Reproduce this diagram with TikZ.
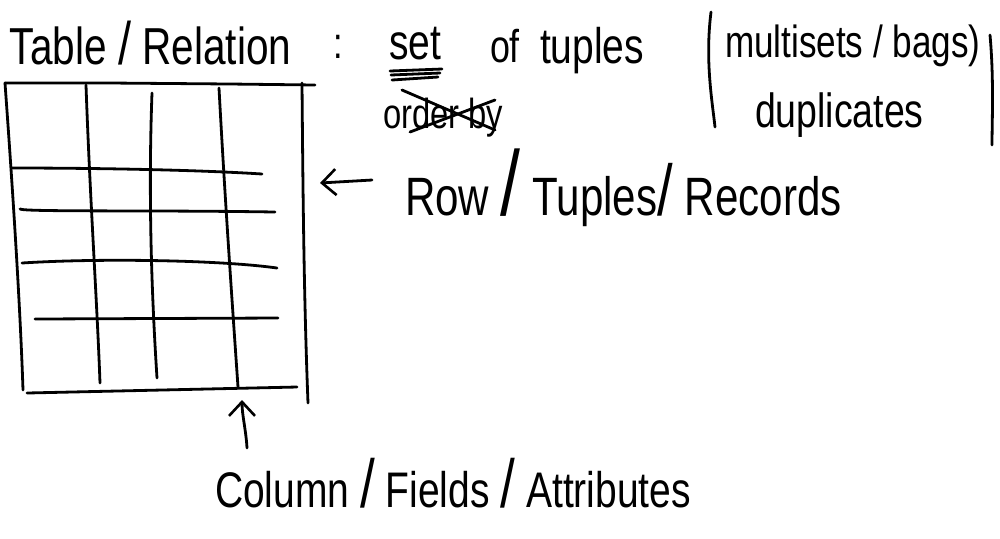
\documentclass[tikz,border=0pt]{standalone}
\usepackage{fontspec}
\setmainfont[FakeStretch=0.78]{Liberation Sans}
\usetikzlibrary{arrows.meta}
\newcommand\fsz[1]{\fontsize{#1}{#1}\selectfont}
\begin{document}
\begin{tikzpicture}[x=0.5pt,y=-0.5pt,
  ink/.style={line width=1.4pt,line cap=round,line join=round},
  lbl/.style={anchor=base west,inner sep=0pt,outer sep=0pt},
  barb/.style={-{Straight Barb[length=7pt,width=13pt,line width=1.3pt]}}]
\useasboundingbox[fill=white] (0,0) rectangle (1000,538);
% table grid
\draw[ink] (5,83) -- (110,83) -- (230,84) -- (315,85);
\draw[ink] (5,83) .. controls (12,180) and (20,300) .. (23,390);
\draw[ink] (27,393) -- (297,387);
\draw[ink] (302,83) .. controls (303,200) and (304,300) .. (308,403);
\draw[ink] (86,85) .. controls (90,200) and (97,300) .. (100,383);
\draw[ink] (152,93) .. controls (148,200) and (152,300) .. (157,378);
\draw[ink] (219,88) .. controls (225,200) and (232,300) .. (238,387);
\draw[ink] (12,168) .. controls (100,168) and (200,170) .. (262,174);
\draw[ink] (20,209) .. controls (25,212) and (150,210) .. (275,212);
\draw[ink] (22,263) .. controls (100,258) and (220,260) .. (277,268);
\draw[ink] (35,319) -- (278,318);
% texts
\node[lbl] (tbl) at (10,64) {\fsz{26}Table {\fsz{30}/} Relation};
\node[lbl] (colon) at (333,58) {\fsz{22}:};
\node[lbl] (set) at (389,59) {\fsz{25}set};
\node[lbl] (of) at (490,62) {\fsz{23}of};
\node[lbl] (tuples) at (540,63) {\fsz{25}tuples};
\node[lbl] (multi) at (725,57) {\fsz{22.5}multisets / bags)};
\node[lbl] (dup) at (755,127) {\fsz{24}duplicates};
\node[lbl] (order) at (383,128) {\fsz{21}order by};
\node[lbl] (row) at (405,215) {\fsz{27}Row {\fsz{46}/} Tuples{\fsz{36}/} Records};
\node[lbl] (col) at (215,507) {\fsz{25}Column {\fsz{34}/} Fields {\fsz{34}/} Attributes};
% underline of set
\draw[ink] (390,71) -- (442,69);
\draw[ink] (391,75) -- (440,73);
\draw[ink] (392,80) -- (438,77);
% cross-out of order by
\draw[ink] (402,90) -- (495,130);
\draw[ink] (410,132) -- (495,100);
% brackets
\draw[ink] (711,12) .. controls (705,60) and (712,100) .. (715,127);
\draw[ink] (990,35) .. controls (994,80) and (992,120) .. (992,145);
% arrows
\coordinate (rowtail) at (372,180);
\coordinate (rowhead) at (320,183);
\coordinate (coltail) at (247,448);
\coordinate (colhead) at (242,400);
\draw[ink,barb] (rowtail) -- (rowhead);
\draw[ink,barb] (coltail) .. controls (246,430) and (242,415) .. (colhead);
\end{tikzpicture}
\end{document}
